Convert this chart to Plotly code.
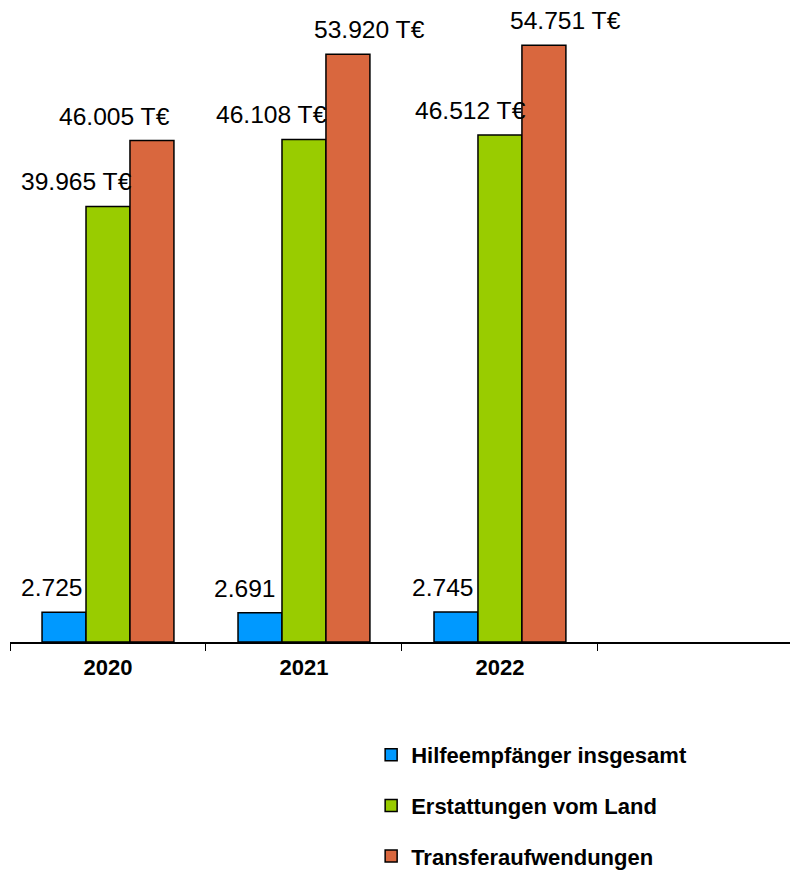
import plotly.graph_objects as go

years = ["2020", "2021", "2022"]
series_names = ["Hilfeempfänger insgesamt", "Erstattungen vom Land", "Transferaufwendungen"]
hilfeempfaenger = [2725, 2691, 2745]
erstattungen = [39965, 46108, 46512]
transfer = [46005, 53920, 54751]
units = ["", " T€", " T€"]

colors = ["#0099FF", "#99CC00", "#D9673E"]
# pixel shifts for value labels (style only), per series per year
label_xshift = [[-12, -15, -13], [-31, -32, -29], [-37, 22, 22]]

xpos = list(range(len(years)))
series = [hilfeempfaenger, erstattungen, transfer]


def fmt(v):
    return f"{v:,}".replace(",", ".")


fig = go.Figure()
for i, (name, vals) in enumerate(zip(series_names, series)):
    fig.add_trace(go.Bar(
        x=xpos, y=vals, name=name,
        marker=dict(color=colors[i], line=dict(color="black", width=1.5)),
        legendgroup=f"g{i}",
    ))

# value labels
n = len(series)
bar_w = (1 - 0.327) / n
annotations = []
for i, vals in enumerate(series):
    off = (i - (n - 1) / 2) * bar_w
    for j, v in enumerate(vals):
        annotations.append(dict(
            x=xpos[j] + off, y=v, xref="x", yref="y",
            text=fmt(v) + units[i], showarrow=False,
            yanchor="bottom", xanchor="center",
            xshift=label_xshift[i][j], yshift=9,
            font=dict(family="Liberation Sans, Arial", size=24.6, color="black"),
        ))

fig.update_layout(
    width=790, height=871,
    margin=dict(l=10, r=0, t=2, b=229, autoexpand=False),
    paper_bgcolor="white", plot_bgcolor="white",
    barmode="group", bargap=0.327, bargroupgap=0,
    showlegend=True,
    legend=dict(
        x=0.463, xanchor="left", xref="paper",
        y=0.1573, yanchor="top", yref="container",
        orientation="v", tracegroupgap=19,
        font=dict(family="Liberation Sans, Arial", size=22, color="black", weight="bold"),
        bgcolor="rgba(0,0,0,0)",
    ),
    annotations=annotations,
    xaxis=dict(
        range=[-0.5, 3.48],
        tickvals=xpos, ticktext=[f"<b>{y}</b>" for y in years],
        ticks="", showgrid=False, zeroline=False,
        showline=True, linecolor="black", linewidth=1.5,
        tickfont=dict(family="Liberation Sans, Arial", size=22, color="black"),
        minor=dict(tickvals=[-0.5, 0.5, 1.5, 2.5], ticks="outside", ticklen=7,
                   tickcolor="black", tickwidth=1, showgrid=False),
        ticklabelstandoff=5,
    ),
    yaxis=dict(
        range=[0, 58716], visible=False, showgrid=False, zeroline=False,
    ),
)

fig.write_html("out.html", config={"displayModeBar": False},
               post_script="document.body.style.margin='0';")
